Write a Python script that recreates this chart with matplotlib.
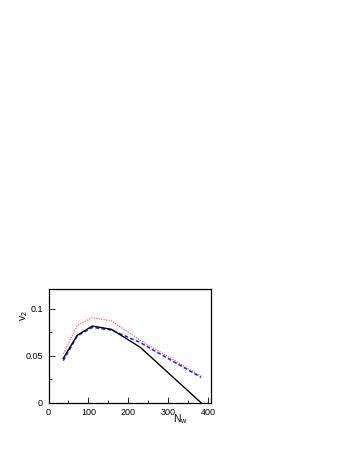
import matplotlib
matplotlib.use('Agg')
import matplotlib.pyplot as plt
from matplotlib.ticker import MultipleLocator

# number of wounded nucleons
n_w = [37, 72, 110, 158, 230, 383]

v2_black = [0.047, 0.0716, 0.0815, 0.078, 0.059, 0.0]
v2_blue = [0.0447, 0.071, 0.080, 0.0773, 0.064, 0.027]
v2_red = [0.052, 0.082, 0.0905, 0.087, 0.0665, 0.0284]

plt.rcParams['font.family'] = ['Liberation Sans', 'DejaVu Sans']

fig = plt.figure(figsize=(3.49, 4.51), dpi=100)
ax = fig.add_axes([0.139, 0.107, 0.4656, 0.2515])

ax.plot(n_w, v2_red, color='#ff6060', linestyle=(0, (1, 1)), linewidth=0.9)
ax.plot(n_w, v2_blue, color='#2020ff', linestyle=(0, (2.5, 1.5)), linewidth=1.1)
ax.plot(n_w, v2_black, color='black', linestyle='-', linewidth=1.0)

ax.set_xlim(0, 408)
ax.set_ylim(0, 0.1205)

ax.xaxis.set_major_locator(MultipleLocator(100))
ax.xaxis.set_minor_locator(MultipleLocator(50))
ax.yaxis.set_major_locator(MultipleLocator(0.05))
ax.yaxis.set_minor_locator(MultipleLocator(0.025))
ax.set_yticks([0, 0.05, 0.1])
ax.set_yticklabels(['0', '0.05', '0.1'])

ax.tick_params(which='both', direction='in', labelsize=6.5, width=0.6, pad=4)
ax.tick_params(which='major', length=4)
ax.tick_params(which='minor', length=2)

for sp in ax.spines.values():
    sp.set_linewidth(0.9)

fig.text(0.068, 0.30, '$\\mathregular{v_2}$', fontsize=7.5, rotation=90,
         ha='center', va='center')
fig.text(0.518, 0.071, '$\\mathregular{N_w}$', fontsize=7.5,
         ha='center', va='center')

fig.savefig('out.png', dpi=100)
